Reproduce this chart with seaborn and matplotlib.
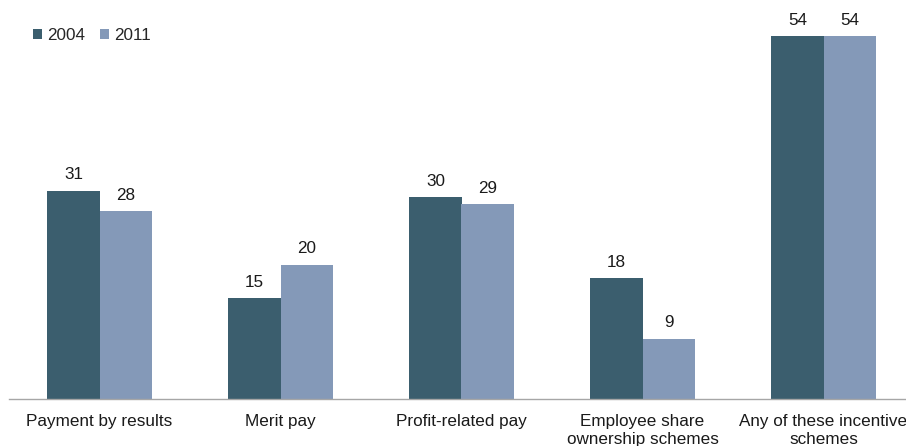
import matplotlib
matplotlib.use("Agg")
import matplotlib.pyplot as plt
import seaborn as sns
import pandas as pd
from matplotlib.patches import Patch

categories = [
    "Payment by results",
    "Merit pay",
    "Profit-related pay",
    "Employee share\nownership schemes",
    "Any of these incentive\nschemes",
]
years = ["2004", "2011"]
values_2004 = [31, 15, 30, 18, 54]
values_2011 = [28, 20, 29, 9, 54]
colors = ["#3B5E6E", "#8499B8"]

df = pd.DataFrame({
    "scheme": categories * 2,
    "year": [years[0]] * len(categories) + [years[1]] * len(categories),
    "value": values_2004 + values_2011,
})

sns.set_style("white")
plt.rcParams["font.family"] = ["Liberation Sans", "DejaVu Sans"]
plt.rcParams["font.size"] = 12.3

fig = plt.figure(figsize=(9.06, 4.46), dpi=100)
ax = fig.add_axes([9 / 906, 47 / 446, 905 / 906, 399 / 446])

sns.barplot(data=df, x="scheme", y="value", hue="year", palette=colors,
            width=0.575, gap=0, saturation=1, order=categories,
            hue_order=years, ax=ax, legend=False, errorbar=None,
            linewidth=0, edgecolor="none")

for cont in ax.containers:
    ax.bar_label(cont, fmt="%d", padding=6, fontsize=12.3, color="#1a1a1a")

ax.set_xlim(-0.5, 4.5)
ax.set_ylim(0, 59.4)
ax.set_xlabel("")
ax.set_ylabel("")
ax.set_yticks([])

for s in ["left", "right", "top"]:
    ax.spines[s].set_visible(False)
ax.spines["bottom"].set_color("#A6A6A6")
ax.spines["bottom"].set_linewidth(1.0)

ax.set_xticks(range(len(categories)))
ax.set_xticklabels(categories, linespacing=1.2, color="#1a1a1a")
ax.tick_params(axis="x", which="major", length=0, pad=11)
ax.set_xticks([i - 0.5 for i in range(len(categories) + 1)], minor=True)
ax.tick_params(axis="x", which="minor", length=5, color="#A6A6A6", width=1.0)

handles = [Patch(facecolor=c, edgecolor="none") for c in colors]
fig.legend(handles, years, loc="upper left", bbox_to_anchor=(33 / 906, 1 - 28 / 446),
           ncol=2, frameon=False, handlelength=0.55, handleheight=0.55,
           handletextpad=0.3, columnspacing=0.85, borderpad=0,
           borderaxespad=0, fontsize=12.3)

fig.savefig("out.png", dpi=100)
